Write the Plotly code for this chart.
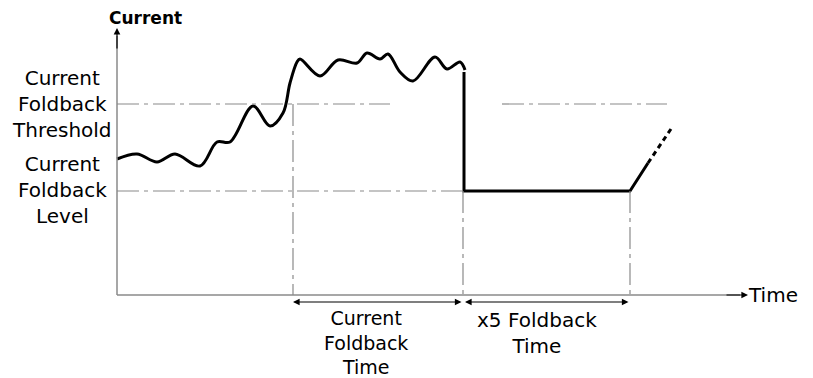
import plotly.graph_objects as go

# schematic drawn in pixel-like units: x grows right, y grows down
AXIS_X0, AXIS_Y0 = 117, 295
THRESHOLD_Y = 104
LEVEL_Y = 191
T_TRIP, T_DROP, T_END = 293, 463, 630

wave_x = [117, 137, 157, 175, 200, 217, 230, 253, 270, 283, 290, 297, 300, 320, 338,
          357, 367, 380, 388, 400, 413, 435, 447, 460, 465]
wave_y = [159, 154, 162, 154, 166, 142, 142, 106, 126, 113, 83, 62, 59, 76, 60,
          63, 53, 59, 54, 72, 81, 57, 69, 62, 70]

fold_x = [464, 464, 630, 648]
fold_y = [72, 191, 191, 163]
ramp_x = [648, 673]
ramp_y = [163, 126]

GRAY = "#8a8a8a"
FONT = "DejaVu Sans"
DASH = "22px,5px,4px,5px"
PAGE_OFFSET = 8  # body margin of the html page

fig = go.Figure()

fig.add_trace(go.Scatter(x=wave_x, y=wave_y, mode="lines", line=dict(color="black", width=3, shape="spline", smoothing=1.0)))
fig.add_trace(go.Scatter(x=fold_x, y=fold_y, mode="lines", line=dict(color="black", width=3)))
fig.add_trace(go.Scatter(x=ramp_x, y=ramp_y, mode="lines", line=dict(color="black", width=3, dash="5px,4px")))

shapes = [
    # axes
    dict(type="line", x0=AXIS_X0, y0=AXIS_Y0, x1=AXIS_X0, y1=36, line=dict(color=GRAY, width=1.5)),
    dict(type="line", x0=AXIS_X0, y0=AXIS_Y0, x1=740, y1=AXIS_Y0, line=dict(color=GRAY, width=1.5)),
    # threshold / level guides
    dict(type="line", x0=AXIS_X0, y0=THRESHOLD_Y, x1=390, y1=THRESHOLD_Y, line=dict(color=GRAY, width=1.2, dash=DASH)),
    dict(type="line", x0=502, y0=THRESHOLD_Y, x1=667, y1=THRESHOLD_Y, line=dict(color=GRAY, width=1.2, dash=DASH)),
    dict(type="line", x0=AXIS_X0, y0=LEVEL_Y, x1=T_DROP, y1=LEVEL_Y, line=dict(color=GRAY, width=1.2, dash=DASH)),
    # vertical time markers
    dict(type="line", x0=T_TRIP, y0=THRESHOLD_Y, x1=T_TRIP, y1=AXIS_Y0, line=dict(color=GRAY, width=1.2, dash=DASH)),
    dict(type="line", x0=T_DROP, y0=LEVEL_Y, x1=T_DROP, y1=AXIS_Y0, line=dict(color=GRAY, width=1.2, dash=DASH)),
    dict(type="line", x0=T_END, y0=LEVEL_Y, x1=T_END, y1=AXIS_Y0, line=dict(color=GRAY, width=1.2, dash=DASH)),
]

arrow = dict(showarrow=True, arrowhead=2, arrowsize=1.1, arrowwidth=1.2, arrowcolor="black",
             axref="x", ayref="y", text="")
annotations = [
    # axis arrows
    dict(x=AXIS_X0, y=28, ax=AXIS_X0, ay=50, **arrow),
    dict(x=748, y=AXIS_Y0, ax=725, ay=AXIS_Y0, **arrow),
    # dimension arrows
    dict(x=T_TRIP, y=302, ax=T_DROP, ay=302, arrowside="end+start", **arrow),
    dict(x=T_DROP + 2, y=302, ax=T_END, ay=302, arrowside="end+start", **arrow),
]

txt = dict(showarrow=False, font=dict(family=FONT, size=20, color="black"))
annotations += [
    dict(x=145, y=18, text="<b>Current</b>", showarrow=False, font=dict(family=FONT, size=17, color="black")),
    dict(x=62, y=104, text="Current<br>Foldback<br>Threshold", **txt),
    dict(x=62, y=190, text="Current<br>Foldback<br>Level", **txt),
    dict(x=773, y=295, text="Time", **txt),
    dict(x=366, y=342, text="Current<br>Foldback<br>Time", showarrow=False,
         font=dict(family=FONT, size=19, color="black")),
    dict(x=537, y=333, text="x5 Foldback<br>Time", **txt),
]

fig.update_layout(
    width=813, height=378,
    margin=dict(l=0, r=0, t=0, b=0),
    plot_bgcolor="white", paper_bgcolor="white",
    showlegend=False,
    xaxis=dict(range=[PAGE_OFFSET, 813 + PAGE_OFFSET], visible=False),
    yaxis=dict(range=[378 + PAGE_OFFSET, PAGE_OFFSET], visible=False),
    shapes=shapes,
    annotations=annotations,
)

fig.write_html("out.html")
